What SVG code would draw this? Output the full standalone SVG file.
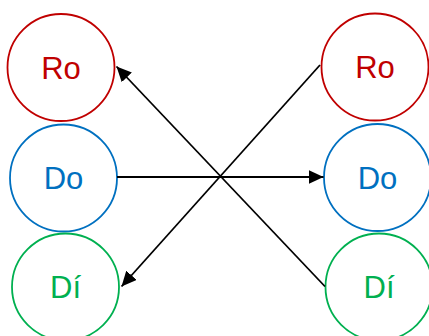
<svg xmlns="http://www.w3.org/2000/svg" width="429" height="336" viewBox="0 0 429 336">
<style>
.n{fill:#fff;stroke-width:1.8}
.t{font-family:"Liberation Sans",Arial,sans-serif;font-size:31px;text-anchor:middle}
.ro circle{stroke:#C00000}.ro text{fill:#C00000}
.do circle{stroke:#0070C0}.do text{fill:#0070C0}
.di circle{stroke:#00B050}.di text{fill:#00B050}
.c{stroke:#000;fill:none}
</style>
<defs>
<marker id="ah" viewBox="0 0 15 14" refX="15" refY="7" markerWidth="15" markerHeight="14" markerUnits="userSpaceOnUse" orient="auto">
<path d="M0,0 L15,7 L0,14 Z" fill="#000"/>
</marker>
</defs>
<g id="left-ro" class="ro"><circle class="n" cx="61" cy="67.5" r="53.5"/><text class="t" x="61" y="78.5">Ro</text></g>
<g id="left-do" class="do"><circle class="n" cx="63.5" cy="178" r="53.5"/><text class="t" x="63.5" y="189">Do</text></g>
<g id="left-di" class="di"><circle class="n" cx="65.5" cy="287" r="53.5"/><text class="t" x="65.5" y="298">Dí</text></g>
<g id="right-ro" class="ro"><circle class="n" cx="375" cy="67" r="53.5"/><text class="t" x="375" y="78">Ro</text></g>
<g id="right-do" class="do"><circle class="n" cx="377.5" cy="177.5" r="53.5"/><text class="t" x="377.5" y="188.5">Do</text></g>
<g id="right-di" class="di"><circle class="n" cx="379" cy="287" r="53.5"/><text class="t" x="379" y="298">Dí</text></g>
<g id="connectors">
<line class="c" stroke-width="2" x1="117" y1="177" x2="323.5" y2="177" marker-end="url(#ah)"/>
<line class="c" stroke-width="1.8" x1="320" y1="65" x2="121.5" y2="286.5" marker-end="url(#ah)"/>
<line class="c" stroke-width="1.8" x1="325" y1="286.5" x2="116.5" y2="66.5" marker-end="url(#ah)"/>
</g>
</svg>
